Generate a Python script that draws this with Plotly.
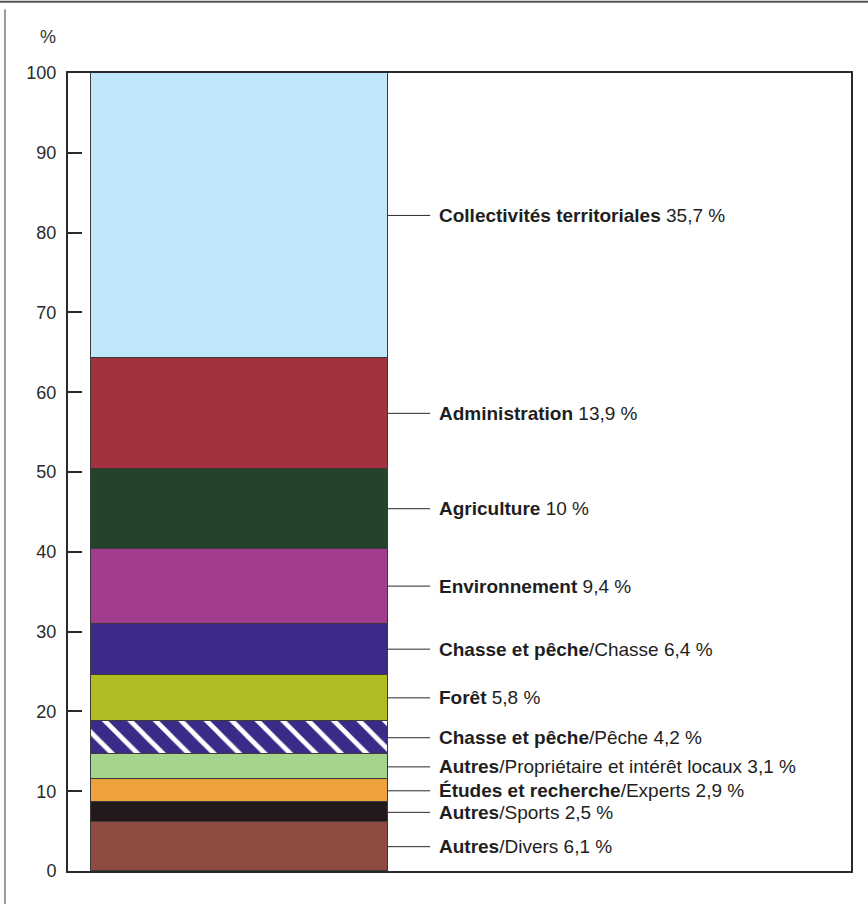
import plotly.graph_objects as go

# Segments listed from the bottom of the stack to the top
categories = [
    "Autres", "Autres", "Études et recherche", "Autres", "Chasse et pêche",
    "Forêt", "Chasse et pêche", "Environnement", "Agriculture",
    "Administration", "Collectivités territoriales",
]
subcategories = [
    "Divers", "Sports", "Experts", "Propriétaire et intérêt locaux", "Pêche",
    "", "Chasse", "", "", "", "",
]
shares = [6.1, 2.5, 2.9, 3.1, 4.2, 5.8, 6.4, 9.4, 10.0, 13.9, 35.7]
colors = [
    "#8f4a42", "#24191a", "#eea23e", "#a5d58c", "#3b2a88",
    "#b1bd22", "#3e2a8a", "#a13c8f", "#24432a", "#a3323f", "#bfe7f9",
]
hatched = [False, False, False, False, True, False, False, False, False, False, False]
y_ticks = [0, 10, 20, 30, 40, 50, 60, 70, 80, 90, 100]

FONT = "Liberation Sans, Arial, Helvetica, sans-serif"
TEXT = "#1e1e1e"
LINE = "#2a2a2a"

BAR_WIDTH = 1.0
X_RANGE = [-0.5774, 2.0591]
LEADER_END = 0.5 + 0.142
LABEL_X = 0.5 + 0.165


def fmt(v):
    return f"{v:g}".replace(".", ",")


fig = go.Figure()

bottom = 0.0
for cat, sub, val, col, hatch in zip(categories, subcategories, shares, colors, hatched):
    marker = dict(color=col, line=dict(color="#3a3a3a", width=1))
    if hatch:
        marker["pattern"] = dict(shape="\\", fgcolor="white", fgopacity=1,
                                 size=18, solidity=0.26)
    fig.add_trace(go.Bar(
        x=[0], y=[val], width=BAR_WIDTH, marker=marker,
        showlegend=False, hoverinfo="skip",
    ))

    mid = bottom + val / 2
    fig.add_shape(type="line", xref="x", yref="y",
                  x0=0.5, x1=LEADER_END, y0=mid, y1=mid,
                  line=dict(color=LINE, width=1))
    rest = (f"/{sub} " if sub else " ") + f"{fmt(val)} %"
    fig.add_annotation(
        x=LABEL_X, y=mid, xref="x", yref="y",
        text=f"<b>{cat}</b>{rest}", showarrow=False,
        xanchor="left", yanchor="middle",
        font=dict(family=FONT, size=19, color=TEXT),
    )
    bottom += val

# Unit label above the value axis
fig.add_annotation(x=-0.025, y=1.045, xref="paper", yref="paper", text="%",
                   showarrow=False, xanchor="center", yanchor="middle",
                   font=dict(family=FONT, size=18, color="#333"))

# Page frame lines
fig.add_shape(type="line", xref="paper", yref="paper",
              x0=-0.09, x1=1.03, y0=1.0893, y1=1.0893,
              line=dict(color="#555", width=2))
fig.add_shape(type="line", xref="paper", yref="paper",
              x0=-0.0805, x1=-0.0805, y0=-0.045, y1=1.08,
              line=dict(color="#999", width=2))

fig.update_layout(
    width=868, height=904,
    margin=dict(l=68, r=17, t=73, b=33),
    barmode="stack",
    plot_bgcolor="white", paper_bgcolor="white",
    bargap=0,
    xaxis=dict(range=X_RANGE, showgrid=False, zeroline=False,
               showticklabels=False, ticks="",
               showline=True, mirror=True, linecolor=LINE, linewidth=2),
    yaxis=dict(range=[0, 100], tickvals=y_ticks, showgrid=False, zeroline=False,
               ticks="inside", ticklen=14, tickwidth=1.5, tickcolor=LINE,
               showline=True, mirror=True, linecolor=LINE, linewidth=2,
               ticklabelstandoff=6,
               tickfont=dict(family=FONT, size=18, color="#2a2a2a")),
)

fig.write_html("out.html")
